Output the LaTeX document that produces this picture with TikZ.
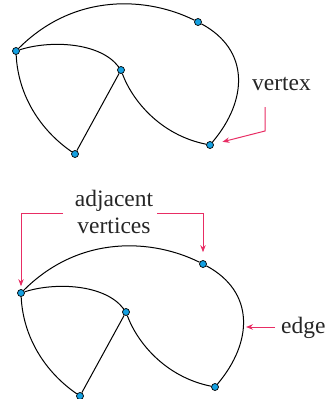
\documentclass[tikz,border=0pt]{standalone}
\usepackage{fontspec}
\setmainfont{Liberation Serif}
\usetikzlibrary{arrows.meta}
\definecolor{vblue}{RGB}{20,160,225}
\definecolor{lblred}{RGB}{232,45,100}
\begin{document}
\begin{tikzpicture}[x=1pt,y=-1pt,
  vtx/.style={circle,draw=black,fill=vblue,line width=0.7pt,inner sep=0pt,minimum size=7pt},
  edg/.style={line width=1pt,black},
  pointer/.style={draw=lblred,line width=1pt,-{Stealth[length=7pt,width=5.5pt]}},
  lbl/.style={font=\fontsize{23.5}{27}\selectfont,text=black!85,inner sep=0pt}]
  \useasboundingbox (0,0) rectangle (328,399);
  % the same graph twice
  \foreach \g/\dx/\dy in {1/0/0,2/5/242}{
    \begin{scope}[shift={(\dx,\dy)}]
      \node[vtx] (a\g) at (16,51){};
      \node[vtx] (b\g) at (198,22){};
      \node[vtx] (c\g) at (121,70){};
      \node[vtx] (d\g) at (75,154){};
      \node[vtx] (e\g) at (210,145){};
      \draw[edg] (a\g) .. controls (75,-8) and (148,-3) .. (b\g);
      \draw[edg] (b\g) .. controls (250,50) and (248,100) .. (e\g);
      \draw[edg] (a\g) .. controls (50,40) and (100,42) .. (c\g);
      \draw[edg] (a\g) .. controls (18,95) and (40,130) .. (d\g);
      \draw[edg] (c\g) -- (d\g);
      \draw[edg] (c\g) .. controls (132,100) and (160,135) .. (e\g);
    \end{scope}
  }
  % labels
  \node[lbl,anchor=base west] (vtxlbl) at (252,90){vertex};
  \coordinate (vtxstart) at (265,107);
  \draw[pointer,shorten >=9pt] (vtxstart) -- (265,131) -- (e1);
  \node[lbl,align=center,anchor=base] (adjlbl) at (114,233){adjacent\\vertices};
  \coordinate (adjl) at (63,213.5);
  \coordinate (adjr) at (157,213.5);
  \draw[pointer,shorten >=3pt] (adjl) -| (a2);
  \draw[pointer,shorten >=8pt] (adjr) -| (b2);
  \node[lbl,anchor=base west] (edglbl) at (281,333){edge};
  \coordinate (edgstart) at (275,327);
  \coordinate (edgpt) at (246,327);
  \draw[pointer] (edgstart) -- (edgpt);
\end{tikzpicture}
\end{document}
